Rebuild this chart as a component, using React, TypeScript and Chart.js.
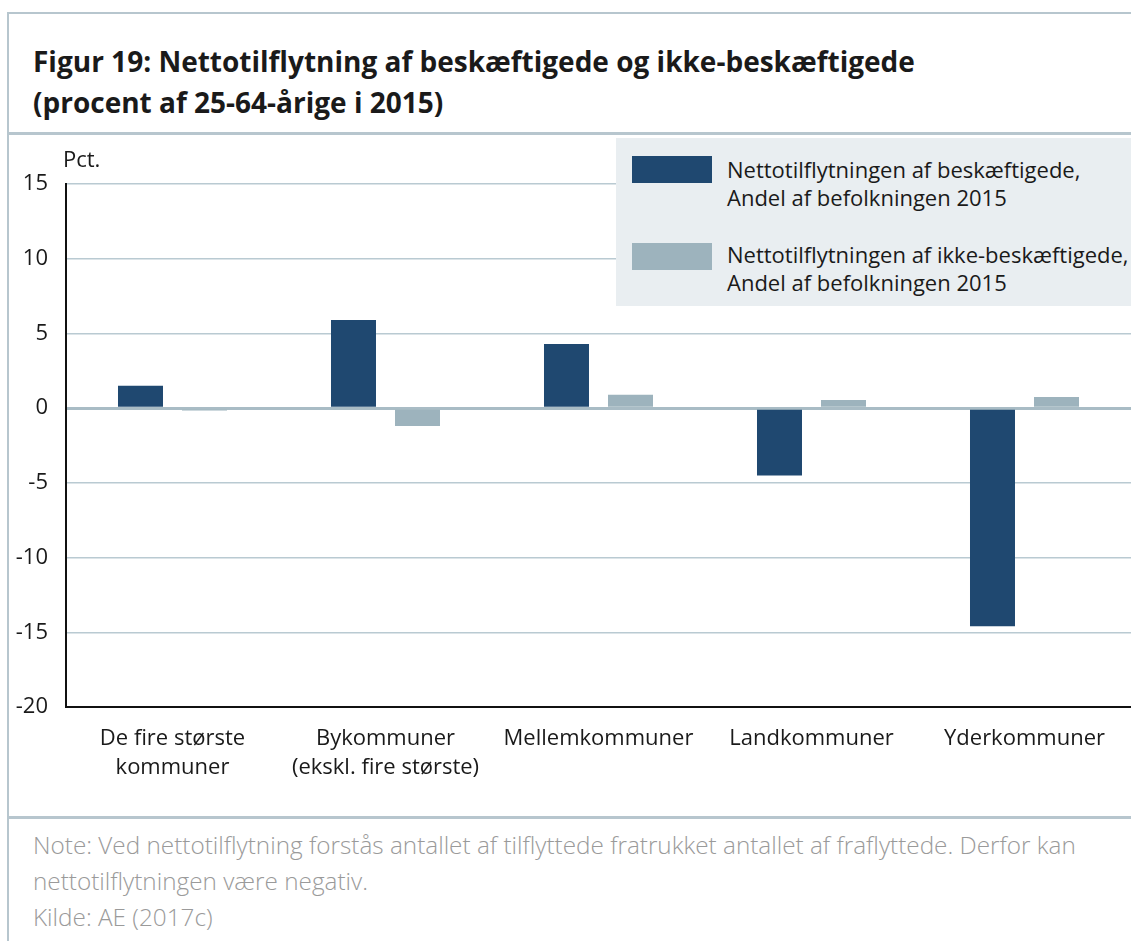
import React, { useEffect, useRef } from "react";
import { Chart, registerables } from "chart.js";

Chart.register(...registerables);

const categories: string[][] = [
  ["De fire største", "kommuner"],
  ["Bykommuner", "(ekskl. fire største)"],
  ["Mellemkommuner"],
  ["Landkommuner"],
  ["Yderkommuner"],
];
const employed = [1.5, 5.9, 4.3, -4.5, -14.6];
const nonEmployed = [-0.15, -1.2, 0.9, 0.55, 0.75];
const yTicks = [15, 10, 5, 0, -5, -10, -15, -20];
const seriesLabels = [
  ["Nettotilflytningen af beskæftigede,", "Andel af befolkningen 2015"],
  ["Nettotilflytningen af ikke-beskæftigede,", "Andel af befolkningen 2015"],
];
const titleLines = [
  "Figur 19: Nettotilflytning af beskæftigede og ikke-beskæftigede",
  "(procent af 25-64-årige i 2015)",
];
const noteLines = [
  "Note: Ved nettotilflytning forstås antallet af tilflyttede fratrukket antallet af fraflyttede. Derfor kan",
  "nettotilflytningen være negativ.",
  "Kilde: AE (2017c)",
];
const unitLabel = "Pct.";

const DARK = "#1f4870";
const LIGHT = "#9db3bd";
const FRAME = "#b7c6ce";
const FONT = "'Open Sans', 'Noto Sans', sans-serif";

export default function App() {
  const ref = useRef<HTMLCanvasElement>(null);

  useEffect(() => {
    if (!ref.current) return;
    const chart = new Chart(ref.current, {
      type: "bar",
      data: {
        labels: categories,
        datasets: [
          { label: seriesLabels[0].join(" "), data: employed, backgroundColor: DARK, borderWidth: 0 },
          { label: seriesLabels[1].join(" "), data: nonEmployed, backgroundColor: LIGHT, borderWidth: 0 },
        ],
      },
      options: {
        animation: false,
        responsive: false,
        devicePixelRatio: 1,
        layout: { padding: { top: 44, right: 0, left: 0, bottom: 0 } },
        datasets: { bar: { categoryPercentage: 0.601, barPercentage: 0.703 } },
        plugins: { legend: { display: false }, tooltip: { enabled: false }, title: { display: false } },
        scales: {
          x: {
            grid: { display: false, drawTicks: false },
            border: { display: true, color: "#111", width: 2 },
            ticks: {
              color: "#1a1a1a",
              font: { family: FONT, size: 22, lineHeight: 1.32 },
              padding: 17,
              maxRotation: 0,
              autoSkip: false,
            },
            afterFit: (s: any) => {
              s.height = 93;
            },
          },
          y: {
            min: -20,
            max: 15,
            afterBuildTicks: (s: any) => {
              s.ticks = yTicks.map((v) => ({ value: v }));
            },
            grid: {
              drawTicks: false,
              color: (c: any) => {
                const v = c.tick?.value;
                if (v === -20) return "rgba(0,0,0,0)";
                return v === 0 ? "#a9bcc5" : "#b9cad2";
              },
              lineWidth: (c: any) => (c.tick?.value === 0 ? 3 : 1.5),
            },
            border: { display: true, color: "#111", width: 2 },
            ticks: {
              color: "#1a1a1a",
              font: { family: FONT, size: 22 },
              padding: 18,
              callback: (v: any) => String(v),
            },
            afterFit: (s: any) => {
              s.width = 66;
            },
          },
        },
      },
    });
    return () => chart.destroy();
  }, []);

  const abs = (o: React.CSSProperties): React.CSSProperties => ({ position: "absolute", ...o });

  return (
    <div style={{ position: "fixed", left: 0, top: 0, width: 1131, height: 941, background: "#fff", overflow: "hidden", fontFamily: FONT }}>
      <div style={abs({ left: 7, top: 12, width: 1124, height: 2, background: FRAME })} />
      <div style={abs({ left: 7, top: 12, width: 2, height: 929, background: FRAME })} />
      <div style={abs({ left: 7, top: 132, width: 1124, height: 3, background: FRAME })} />
      <div style={abs({ left: 7, top: 816, width: 1124, height: 3, background: FRAME })} />
      <div style={abs({ left: 33, top: 41, fontSize: 28, fontWeight: 700, lineHeight: "41px", color: "#1a1a1a", whiteSpace: "nowrap" })}>
        {titleLines.map((t, i) => (
          <div key={i}>{t}</div>
        ))}
      </div>
      <canvas ref={ref} width={1131} height={660} style={abs({ left: 0, top: 140, width: 1131, height: 660 })} />
      <div style={abs({ left: 63, top: 144, fontSize: 22, lineHeight: "28px", color: "#1a1a1a" })}>{unitLabel}</div>
      <div style={abs({ left: 616, top: 138, width: 515, height: 168, background: "#e9eef1" })} />
      {[DARK, LIGHT].map((c, i) => (
        <React.Fragment key={i}>
          <div style={abs({ left: 632, top: 156 + i * 87, width: 80, height: 27, background: c })} />
          <div style={abs({ left: 727, top: 155 + i * 85, fontSize: 22, lineHeight: "28px", color: "#1a1a1a", whiteSpace: "nowrap" })}>
            {seriesLabels[i].map((t, j) => (
              <div key={j}>{t}</div>
            ))}
          </div>
        </React.Fragment>
      ))}
      <div style={abs({ left: 33, top: 827, fontSize: 24.3, fontWeight: 300, lineHeight: "36px", color: "#9a9a9a", whiteSpace: "nowrap" })}>
        {noteLines.map((t, i) => (
          <div key={i}>{t}</div>
        ))}
      </div>
    </div>
  );
}
